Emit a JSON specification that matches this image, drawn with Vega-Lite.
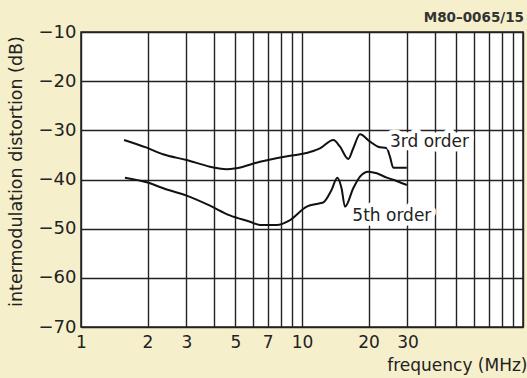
{
  "$schema": "https://vega.github.io/schema/vega-lite/v6.json",
  "width": 442,
  "height": 295,
  "autosize": "none",
  "padding": {"left": 81, "top": 32, "right": 4, "bottom": 51},
  "background": "#f6efcb",
  "config": {
    "view": {"fill": "white", "stroke": "#222", "strokeWidth": 1.5},
    "font": "DejaVu Sans"
  },
  "title": {"text": "M80–0065/15", "anchor": "end", "fontSize": 13.5, "fontWeight": "bold", "color": "#333", "offset": -1, "dx": -3, "font": "DejaVu Sans"},
  "datasets": {
    "curves": [
      {"series": "3rd", "f": 1.566, "db": -31.96},
      {"series": "3rd", "f": 1.983, "db": -33.53},
      {"series": "3rd", "f": 2.35, "db": -34.87},
      {"series": "3rd", "f": 3.006, "db": -36.03},
      {"series": "3rd", "f": 3.834, "db": -37.39},
      {"series": "3rd", "f": 4.17, "db": -37.72},
      {"series": "3rd", "f": 4.56, "db": -37.92},
      {"series": "3rd", "f": 5.06, "db": -37.7},
      {"series": "3rd", "f": 6.46, "db": -36.38},
      {"series": "3rd", "f": 8.83, "db": -35.16},
      {"series": "3rd", "f": 9.79, "db": -34.87},
      {"series": "3rd", "f": 11.25, "db": -34.2},
      {"series": "3rd", "f": 12.06, "db": -33.65},
      {"series": "3rd", "f": 13.86, "db": -31.96},
      {"series": "3rd", "f": 14.86, "db": -33.33},
      {"series": "3rd", "f": 16.2, "db": -35.83},
      {"series": "3rd", "f": 17.06, "db": -33.65},
      {"series": "3rd", "f": 18.3, "db": -30.8},
      {"series": "3rd", "f": 20.3, "db": -32.3},
      {"series": "3rd", "f": 22.1, "db": -33.33},
      {"series": "3rd", "f": 24.2, "db": -33.65},
      {"series": "3rd", "f": 25.0, "db": -35.36},
      {"series": "3rd", "f": 25.9, "db": -37.6},
      {"series": "3rd", "f": 29.8, "db": -37.6},
      {"series": "5th", "f": 1.58, "db": -39.63},
      {"series": "5th", "f": 1.983, "db": -40.57},
      {"series": "5th", "f": 2.357, "db": -41.79},
      {"series": "5th", "f": 3.006, "db": -43.29},
      {"series": "5th", "f": 3.834, "db": -45.33},
      {"series": "5th", "f": 4.72, "db": -47.3},
      {"series": "5th", "f": 5.82, "db": -48.58},
      {"series": "5th", "f": 6.46, "db": -49.25},
      {"series": "5th", "f": 7.68, "db": -49.25},
      {"series": "5th", "f": 8.83, "db": -48.24},
      {"series": "5th", "f": 10.5, "db": -45.53},
      {"series": "5th", "f": 12.06, "db": -44.84},
      {"series": "5th", "f": 12.5, "db": -44.64},
      {"series": "5th", "f": 13.6, "db": -42.13},
      {"series": "5th", "f": 14.45, "db": -39.63},
      {"series": "5th", "f": 15.1, "db": -41.79},
      {"series": "5th", "f": 15.65, "db": -45.53},
      {"series": "5th", "f": 17.06, "db": -41.79},
      {"series": "5th", "f": 18.3, "db": -39.43},
      {"series": "5th", "f": 19.95, "db": -38.41},
      {"series": "5th", "f": 21.8, "db": -38.74},
      {"series": "5th", "f": 24.2, "db": -39.63},
      {"series": "5th", "f": 26.8, "db": -40.3},
      {"series": "5th", "f": 29.8, "db": -41.12}
    ],
    "labels": [
      {"f": 25.0, "db": -32.3, "label": "3rd order"},
      {"f": 16.9, "db": -47.4, "label": "5th order"}
    ]
  },
  "layer": [
    {
      "data": {"name": "curves"},
      "mark": {"type": "line", "color": "#111", "strokeWidth": 2, "interpolate": "monotone"},
      "encoding": {
        "x": {
          "field": "f", "type": "quantitative",
          "scale": {"type": "log", "domain": [1, 100], "nice": false},
          "axis": {
            "values": [1, 2, 3, 4, 5, 6, 7, 8, 9, 10, 20, 30, 40, 50, 60, 70, 80, 90, 100],
            "labelExpr": "indexof([1,2,3,5,7,10,20,30], datum.value) >= 0 ? datum.label : ''",
            "format": "d",
            "grid": true, "gridColor": "#222", "gridWidth": 1.4, "gridOpacity": 1,
            "ticks": false, "domain": false,
            "labelFontSize": 17, "labelColor": "#222", "labelPadding": 7,
            "labelFlush": false, "labelOverlap": false,
            "title": "frequency (MHz)", "titleFontSize": 17, "titleFontWeight": "normal",
            "titleColor": "#222", "titleAnchor": "end", "titleAlign": "right",
            "titleX": 446, "titleY": 43, "titleBaseline": "alphabetic"
          }
        },
        "y": {
          "field": "db", "type": "quantitative",
          "scale": {"domain": [-70, -10], "nice": false},
          "axis": {
            "values": [-70, -65, -60, -55, -50, -45, -40, -35, -30, -25, -20, -15, -10],
            "labelExpr": "datum.value % 10 == 0 ? datum.label : ''",
            "format": "d",
            "grid": true, "gridColor": "#222", "gridWidth": 1.4, "gridOpacity": 1,
            "ticks": false, "domain": false,
            "labelFontSize": 18, "labelColor": "#222", "labelPadding": 5,
            "labelFlush": false, "labelOverlap": false,
            "title": "intermodulation distortion  (dB)", "titleFontSize": 17.5, "titleFontWeight": "normal",
            "titleColor": "#222", "titleX": -56, "titleY": 139, "titleAnchor": null
          }
        },
        "detail": {"field": "series"}
      }
    },
    {
      "data": {"name": "labels"},
      "mark": {"type": "text", "align": "left", "baseline": "middle", "fontSize": 17, "color": "white", "stroke": "white", "strokeWidth": 9, "strokeJoin": "round"},
      "encoding": {
        "x": {"field": "f", "type": "quantitative"},
        "y": {"field": "db", "type": "quantitative"},
        "text": {"field": "label"}
      }
    },
    {
      "data": {"name": "labels"},
      "mark": {"type": "text", "align": "left", "baseline": "middle", "fontSize": 17, "color": "#222"},
      "encoding": {
        "x": {"field": "f", "type": "quantitative"},
        "y": {"field": "db", "type": "quantitative"},
        "text": {"field": "label"}
      }
    }
  ]
}
